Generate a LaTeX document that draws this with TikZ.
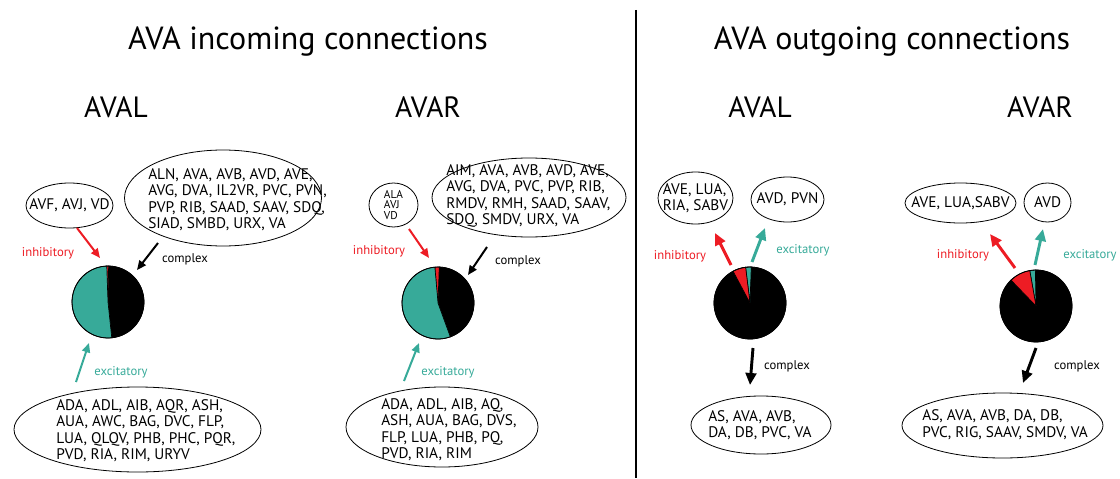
\documentclass[tikz,border=0pt]{standalone}
\usepackage{fontspec}
\setmainfont{PT Sans}
\usetikzlibrary{arrows.meta,shapes.geometric}
\definecolor{teal}{RGB}{55,170,153}
\definecolor{red}{RGB}{237,28,36}
\tikzset{
  ell/.style={draw=black, line width=0.6pt, ellipse, inner sep=0pt},
  txt/.style={font=\fontsize{11.5}{12.4}\selectfont, align=left, inner sep=0pt},
  title/.style={font=\fontsize{24}{26}\selectfont, inner sep=0pt},
  panel/.style={font=\fontsize{22}{24}\selectfont, inner sep=0pt},
  lab/.style={font=\fontsize{9.5}{11}\selectfont, inner sep=0pt},
  inarr/.style={line width=1.5pt, -{Triangle[length=7pt,width=6pt]}},
  outarr/.style={line width=2.2pt, -{Triangle[length=9pt,width=8pt]}},
  slice/.style={draw=black, line width=0.5pt},
  pie/.style={circle, draw=black, line width=0.6pt, minimum size=54pt, inner sep=0pt}
}
% pie slice: center, start angle, end angle (TikZ angles in flipped frame), colour
\newcommand{\pieslice}[4]{%
  \filldraw[slice, fill=#4] (#1) -- ++(#2:36) arc[start angle=#2, end angle=#3, radius=36] -- cycle;}
\begin{document}
\begin{tikzpicture}[x=0.75pt, y=-0.75pt]
\useasboundingbox (0,0) rectangle (1120,478);

% titles
\node[title] (t1) at (308,42) {AVA incoming connections};
\node[title] (t2) at (892,42) {AVA outgoing connections};
\coordinate (d1) at (636,10);
\coordinate (d2) at (636,478);
\draw[line width=0.8pt] (d1) -- (d2);

\node[panel] (p1) at (116,107) {AVAL};
\node[panel] (p2) at (428,107) {AVAR};
\node[panel] (p3) at (760,107) {AVAL};
\node[panel] (p4) at (1040,107) {AVAR};

% ===== incoming AVAL =====
\node[ell, minimum width=65.25pt, minimum height=33.75pt] (e1) at (69.5,205.5) {};
\node[txt] at (e1.center) {AVF, AVJ, VD};
\node[ell, minimum width=147.75pt, minimum height=72pt] (e2) at (223,198) {};
\node[txt, anchor=west] at (148,199.5) {ALN, AVA, AVB, AVD, AVE,\\AVG, DVA, IL2VR, PVC, PVN,\\PVP, RIB, SAAD, SAAV, SDQ,\\SIAD, SMBD, URX, VA};
\node[ell, minimum width=185.25pt, minimum height=63.75pt] (e3) at (137.5,429.5) {};
\node[txt, anchor=west] at (56,430.5) {ADA, ADL, AIB, AQR, ASH,\\AUA, AWC, BAG, DVC, FLP,\\LUA, QLQV, PHB, PHC, PQR,\\PVD, RIA, RIM, URYV};

\coordinate (c1) at (108,302);
\pieslice{c1}{-89}{84}{black}
\pieslice{c1}{-92}{-89}{red}
\pieslice{c1}{-276}{-92}{teal}
\node[pie] (pie1) at (c1) {};

\coordinate (a1s) at (77,228); \coordinate (a1e) at (100,258);
\draw[inarr, red] (a1s) -- (a1e);
\coordinate (a2s) at (158,243); \coordinate (a2e) at (137,270);
\draw[inarr, black] (a2s) -- (a2e);
\coordinate (a3s) at (76,382); \coordinate (a3e) at (89,343);
\draw[inarr, teal] (a3s) -- (a3e);
\node[lab, text=red] (l1) at (48,253) {inhibitory};
\node[lab] (l2) at (185,259) {complex};
\node[lab, text=teal] (l3) at (121,372) {excitatory};

% ===== incoming AVAR =====
\node[ell, minimum width=36.75pt, minimum height=33pt] (e4) at (393.5,205) {};
\node[font=\fontsize{8.5}{8}\selectfont, align=left, inner sep=0pt] at (e4.center) {ALA\\AVJ\\VD};
\node[ell, minimum width=145.5pt, minimum height=59.25pt] (e5) at (529,197.5) {};
\node[txt, anchor=west] at (446,196) {AIM, AVA, AVB, AVD, AVE,\\AVG, DVA, PVC, PVP, RIB,\\RMDV, RMH, SAAD, SAAV,\\SDQ, SMDV, URX, VA};
\node[ell, minimum width=144pt, minimum height=60pt] (e6) at (442,427) {};
\node[txt, anchor=west] at (381,429.5) {ADA, ADL, AIB, AQ,\\ASH, AUA, BAG, DVS,\\FLP, LUA, PHB, PQ,\\PVD, RIA, RIM};

\coordinate (c2) at (438,303);
\pieslice{c2}{-88}{70}{black}
\pieslice{c2}{-95}{-88}{red}
\pieslice{c2}{-290}{-95}{teal}
\node[pie] (pie2) at (c2) {};

\coordinate (a4s) at (409,229); \coordinate (a4e) at (429,258);
\draw[inarr, red] (a4s) -- (a4e);
\coordinate (a5s) at (487,247); \coordinate (a5e) at (468,275);
\draw[inarr, black] (a5s) -- (a5e);
\coordinate (a6s) at (404,381); \coordinate (a6e) at (419,343);
\draw[inarr, teal] (a6s) -- (a6e);
\node[lab, text=red] (l4) at (379,251) {inhibitory};
\node[lab] (l5) at (518,261) {complex};
\node[lab, text=teal] (l6) at (448,372) {excitatory};

% ===== outgoing AVAL =====
\node[ell, minimum width=56.25pt, minimum height=39pt] (e7) at (695.5,198) {};
\node[txt] at (e7.center) {AVE, LUA,\\RIA, SABV};
\node[ell, minimum width=54.75pt, minimum height=33.75pt] (e8) at (787.5,199.5) {};
\node[txt] at (e8.center) {AVD, PVN};
\node[ell, minimum width=105pt, minimum height=43.5pt] (e11) at (761,425) {};
\node[txt, anchor=west] at (708,425) {AS, AVA, AVB,\\DA, DB, PVC, VA};

\coordinate (c3) at (750,303);
\pieslice{c3}{-88}{272}{black}
\pieslice{c3}{-97}{-88}{teal}
\pieslice{c3}{-118}{-97}{red}
\node[pie] (pie3) at (c3) {};

\coordinate (a7s) at (731,265); \coordinate (a7e) at (715,233);
\draw[outarr, red] (a7s) -- (a7e);
\coordinate (a8s) at (752,262); \coordinate (a8e) at (765,228);
\draw[outarr, teal] (a8s) -- (a8e);
\coordinate (a11s) at (753,348); \coordinate (a11e) at (750,385);
\draw[outarr, black] (a11s) -- (a11e);
\node[lab, text=red] (l7) at (680,256) {inhibitory};
\node[lab, text=teal] (l8) at (803,250) {excitatory};
\node[lab] (l9) at (787,366) {complex};

% ===== outgoing AVAR =====
\node[ell, minimum width=83.25pt, minimum height=30pt] (e9) at (960.5,203) {};
\node[txt] at (e9.center) {AVE, LUA,SABV};
\node[ell, minimum width=35.25pt, minimum height=29.25pt] (e10) at (1047.5,202.5) {};
\node[txt] at (e10.center) {AVD};
\node[ell, minimum width=150.75pt, minimum height=48.75pt] (e12) at (1002.5,425.5) {};
\node[txt, anchor=west] at (922,424.5) {AS, AVA, AVB, DA, DB,\\PVC, RIG, SAAV, SMDV, VA};

\coordinate (c4) at (1036,306);
\pieslice{c4}{-91}{226}{black}
\pieslice{c4}{-100}{-91}{teal}
\pieslice{c4}{-134}{-100}{red}
\node[pie] (pie4) at (c4) {};

\coordinate (a9s) at (1015,268); \coordinate (a9e) at (990,234);
\draw[outarr, red] (a9s) -- (a9e);
\coordinate (a10s) at (1035,265); \coordinate (a10e) at (1043,229);
\draw[outarr, teal] (a10s) -- (a10e);
\coordinate (a12s) at (1036,348); \coordinate (a12e) at (1023,383);
\draw[outarr, black] (a12s) -- (a12e);
\node[lab, text=red] (l10) at (963,255) {inhibitory};
\node[lab, text=teal] (l11) at (1090,255) {excitatory};
\node[lab] (l12) at (1077,366) {complex};
\end{tikzpicture}
\end{document}
